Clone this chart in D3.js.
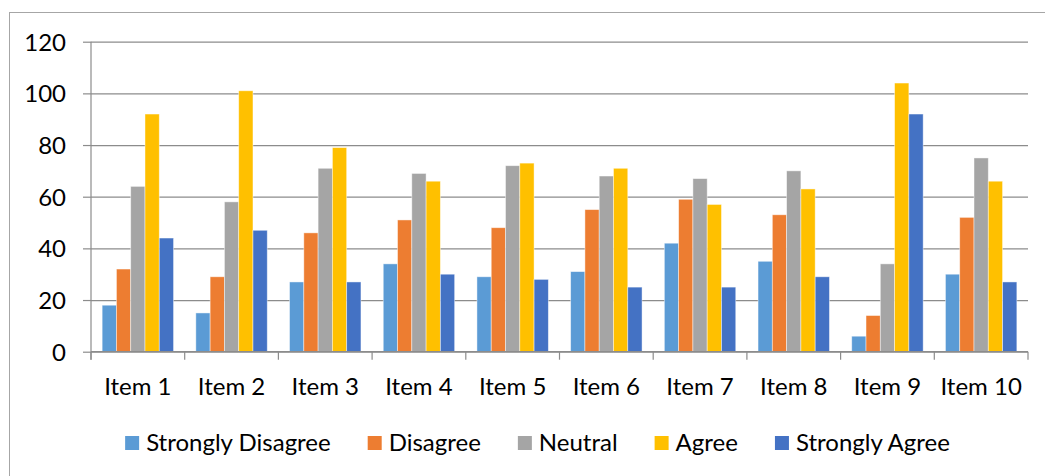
<!DOCTYPE html>
<html>
<head>
<meta charset="utf-8">
<script src="https://cdn.jsdelivr.net/npm/d3@7"></script>
<style>
  html, body { margin: 0; padding: 0; background: #fff; }
  svg { display: block; }
  text { font-family: Lato, "Open Sans", sans-serif; fill: #000; }
</style>
</head>
<body>
<svg id="chart" width="1045" height="476"></svg>
<script>
const categories = ["Item 1","Item 2","Item 3","Item 4","Item 5","Item 6","Item 7","Item 8","Item 9","Item 10"];
const seriesNames = ["Strongly Disagree","Disagree","Neutral","Agree","Strongly Agree"];
const stronglyDisagree = [18, 15, 27, 34, 29, 31, 42, 35, 6, 30];
const disagree         = [32, 29, 46, 51, 48, 55, 59, 53, 14, 52];
const neutral          = [64, 58, 71, 69, 72, 68, 67, 70, 34, 75];
const agree            = [92, 101, 79, 66, 73, 71, 57, 63, 104, 66];
const stronglyAgree    = [44, 47, 27, 30, 28, 25, 25, 29, 92, 27];
const yTicks = [0, 20, 40, 60, 80, 100, 120];
const colors = ["#5B9BD5", "#ED7D31", "#A5A5A5", "#FFC000", "#4472C4"];

const seriesValues = [stronglyDisagree, disagree, neutral, agree, stronglyAgree];

const svg = d3.select("#chart");
const plotLeft = 91, plotRight = 1028, plotTop = 41.7, plotBottom = 351.7;
const gridColor = "#8c8c8c";
const fontSize = 24;

// outer frame (right & bottom edges lie outside the picture)
svg.append("rect")
  .attr("x", 9.5).attr("y", 12.5)
  .attr("width", 1100).attr("height", 500)
  .attr("fill", "none").attr("stroke", "#a6a6a6").attr("stroke-width", 1);

const x = d3.scaleBand().domain(categories).range([plotLeft, plotRight]).padding(0);
const xInner = d3.scaleBand().domain(seriesNames).range([0, x.bandwidth()])
  .paddingInner(0).paddingOuter(0.78);
const y = d3.scaleLinear().domain([0, 120]).range([plotBottom, plotTop]);

// gridlines + y ticks
const yAxis = d3.axisLeft(y).tickValues(yTicks).tickSize(-(plotRight - plotLeft)).tickPadding(0).tickFormat("");
const gy = svg.append("g").attr("transform", `translate(${plotLeft},0)`).call(yAxis);
gy.select(".domain").remove();
gy.selectAll(".tick line").attr("stroke", gridColor).attr("stroke-width", 1.2);
gy.selectAll(".tick").append("line")
  .attr("x1", -8).attr("x2", 0).attr("stroke", gridColor).attr("stroke-width", 1.2);
gy.selectAll(".tick").append("text")
  .attr("x", -25).attr("dy", "0.35em")
  .attr("text-anchor", "end")
  .style("font-size", fontSize + "px")
  .text(d => d);

// y axis line
svg.append("line")
  .attr("x1", plotLeft).attr("x2", plotLeft).attr("y1", plotTop).attr("y2", plotBottom + 8)
  .attr("stroke", gridColor).attr("stroke-width", 1.2);

// bars
const groups = svg.append("g").selectAll("g")
  .data(categories).join("g")
  .attr("transform", d => `translate(${x(d)},0)`);

groups.selectAll("rect")
  .data((d, i) => seriesNames.map((s, k) => ({ s, k, v: seriesValues[k][i] })))
  .join("rect")
  .attr("x", d => xInner(d.s))
  .attr("width", xInner.bandwidth())
  .attr("y", d => y(d.v))
  .attr("height", d => y(0) - y(d.v))
  .attr("fill", d => colors[d.k])
  .attr("stroke", "#ffffff").attr("stroke-opacity", 0.55).attr("stroke-width", 0.8);

// x axis
const xAxis = d3.axisBottom(x).tickSize(0).tickPadding(0);
const gx = svg.append("g").attr("transform", `translate(0,${plotBottom})`).call(xAxis);
gx.select(".domain").attr("stroke", gridColor).attr("stroke-width", 1.2).attr("d", `M${plotLeft},0H${plotRight}`);
gx.selectAll(".tick text")
  .attr("y", 43.5).attr("dy", 0)
  .style("font-size", fontSize + "px")
  .style("font-family", "Lato, 'Open Sans', sans-serif")
  .attr("fill", "#000");
const bounds = categories.map(c => x(c)).concat([plotRight]);
svg.append("g").selectAll("line").data(bounds).join("line")
  .attr("x1", d => d).attr("x2", d => d)
  .attr("y1", plotBottom).attr("y2", plotBottom + 8)
  .attr("stroke", gridColor).attr("stroke-width", 1.2);

// legend
const legend = svg.append("g");
const items = legend.selectAll("g").data(seriesNames).join("g");
items.append("rect").attr("width", 14).attr("height", 14).attr("y", -15)
  .attr("fill", (d, i) => colors[i]);
items.append("text").attr("x", 21).attr("y", 0).attr("dy", 0)
  .style("font-size", fontSize + "px")
  .text(d => d);
let cx = 0;
const gap = 37;
items.each(function() {
  const g = d3.select(this);
  const w = 21 + g.select("text").node().getComputedTextLength();
  g.attr("transform", `translate(${cx},0)`);
  cx += w + gap;
});
const totalW = cx - gap;
legend.attr("transform", `translate(${537.5 - totalW / 2},451)`);
</script>
</body>
</html>
